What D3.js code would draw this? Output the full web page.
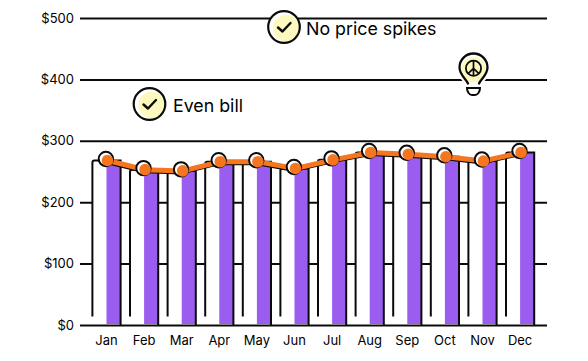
<!DOCTYPE html>
<html><head><meta charset="utf-8">
<script src="https://cdn.jsdelivr.net/npm/d3@7/dist/d3.min.js"></script>
<style>html,body{margin:0;padding:0;background:#fff}svg{display:block}text{font-family:Inter,sans-serif;fill:#000}</style>
</head><body><svg id="c" width="588" height="361"></svg>
<script>
const months=["Jan","Feb","Mar","Apr","May","Jun","Jul","Aug","Sep","Oct","Nov","Dec"];
const bills=[268,253,251,266,266,255,269,281,278,274,267,281];
const tickValues=[0,100,200,300,400,500];
const svg=d3.select("#c");
const x=d3.scaleBand().domain(months).range([87.7,538.9]).paddingInner(.25).paddingOuter(.125);
const y=d3.scaleLinear().domain([0,500]).range([325,18]);
const INK="#0a0a0a",PURPLE="#9B5CF0",ORANGE="#F5761F",CREAM="#FDF9BE";

const ya=svg.append("g").attr("transform","translate(80,0)")
  .call(d3.axisLeft(y).tickValues(tickValues).tickSize(-467).tickPadding(6).tickFormat(d=>"$"+d));
ya.select(".domain").remove();
ya.selectAll("line").attr("stroke",INK).attr("stroke-width",2);
ya.selectAll("text").attr("font-size",13).attr("font-weight",400).style("font-family","Inter,sans-serif");

const xa=svg.append("g").attr("transform","translate(0,325)")
  .call(d3.axisBottom(x).tickSize(0).tickPadding(11));
xa.select(".domain").remove();
xa.selectAll("text").attr("font-size",13).attr("font-weight",400).style("font-family","Inter,sans-serif");

const bars=svg.append("g").selectAll("g").data(months).join("g");
const bw=x.bandwidth();
bars.append("rect").attr("x",d=>x(d)).attr("width",bw)
  .attr("y",(d,i)=>y(bills[i])).attr("height",(d,i)=>y(0)-y(bills[i])-1).attr("fill","#fff");
bars.append("rect").attr("x",d=>x(d)+bw/2).attr("width",bw/2)
  .attr("y",(d,i)=>y(bills[i])).attr("height",(d,i)=>y(0)-y(bills[i])-1).attr("fill",PURPLE);
bars.append("path").attr("fill","none").attr("stroke",INK).attr("stroke-width",2)
  .attr("d",(d,i)=>{const l=x(d),r=l+bw,t=y(bills[i]),b=y(0);
    return `M${l},${b-8.5}V${t+2}Q${l},${t} ${l+2},${t}H${r}V${b}`;});

const cx=d=>x(d)+bw/2+1;
const line=d3.line().x((d,i)=>cx(months[i])).y(d=>y(d));
svg.append("path").datum(bills).attr("d",line).attr("fill","none").attr("stroke",INK)
  .attr("stroke-width",4).attr("transform","translate(-1,1.5)");
svg.append("path").datum(bills).attr("d",line).attr("fill","none").attr("stroke",ORANGE).attr("stroke-width",5);
const dots=svg.append("g").selectAll("g").data(months).join("g")
  .attr("transform",(d,i)=>`translate(${cx(d)},${y(bills[i])})`);
dots.append("circle").attr("cx",-1.6).attr("cy",-1.5).attr("r",7.2).attr("fill","#fff").attr("stroke",INK).attr("stroke-width",2);
dots.append("circle").attr("r",5.8).attr("fill",ORANGE);

function check(cx0,cy0){
  const g=svg.append("g").attr("transform",`translate(${cx0},${cy0})`);
  g.append("circle").attr("r",16.3).attr("fill","#fff");
  g.append("circle").attr("cx",2).attr("cy",1).attr("r",13.2).attr("fill",CREAM);
  g.append("circle").attr("r",15.8).attr("fill","none").attr("stroke",INK).attr("stroke-width",2.2);
  g.append("path").attr("d","M-6,0.5L-1.5,4.5L6.5,-4").attr("fill","none").attr("stroke",INK)
   .attr("stroke-width",2.4).attr("stroke-linecap","round").attr("stroke-linejoin","round");
}
check(149.5,104);check(284,27);
svg.append("text").text("Even bill").attr("x",173).attr("y",111.5).attr("font-size",17.8);
svg.append("text").text("No price spikes").attr("x",306).attr("y",35).attr("font-size",17.8);

const b=svg.append("g").attr("transform","translate(473.5,68)");
b.append("path").attr("d","M-5.5,15.5C-9,11 -15,7 -14,-1A14,14 0 0 1 14,-1C15,7 9,11 5.5,15.5Z")
 .attr("fill","#fff").attr("stroke","#fff").attr("stroke-width",5);
b.append("path").attr("d","M-5,14C-7,10 -12,7 -12,1A12,12 0 0 1 12,1C12,7 7,10 5,14Z").attr("fill",CREAM);
b.append("path").attr("d","M-5.5,15.5C-7,11.5 -14,7 -14,-0.5A14,14 0 0 1 14,-0.5C14,7 7,11.5 5.5,15.5")
 .attr("fill","none").attr("stroke",INK).attr("stroke-width",2.3).attr("stroke-linecap","round");
b.append("circle").attr("cy",0.3).attr("r",7.6).attr("fill","none").attr("stroke",INK).attr("stroke-width",1.8);
b.append("path").attr("d","M0,-7.3V7.9M0,0.3L-5.4,5.7M0,0.3L5.4,5.7").attr("fill","none").attr("stroke",INK).attr("stroke-width",1.7);
b.append("path").attr("d","M-6.5,20H6.5C6.5,24 4,27 1.5,27H-1.5C-4,27 -6.5,24 -6.5,20Z").attr("fill","#fff").attr("stroke",INK).attr("stroke-width",2);
</script></body></html>
